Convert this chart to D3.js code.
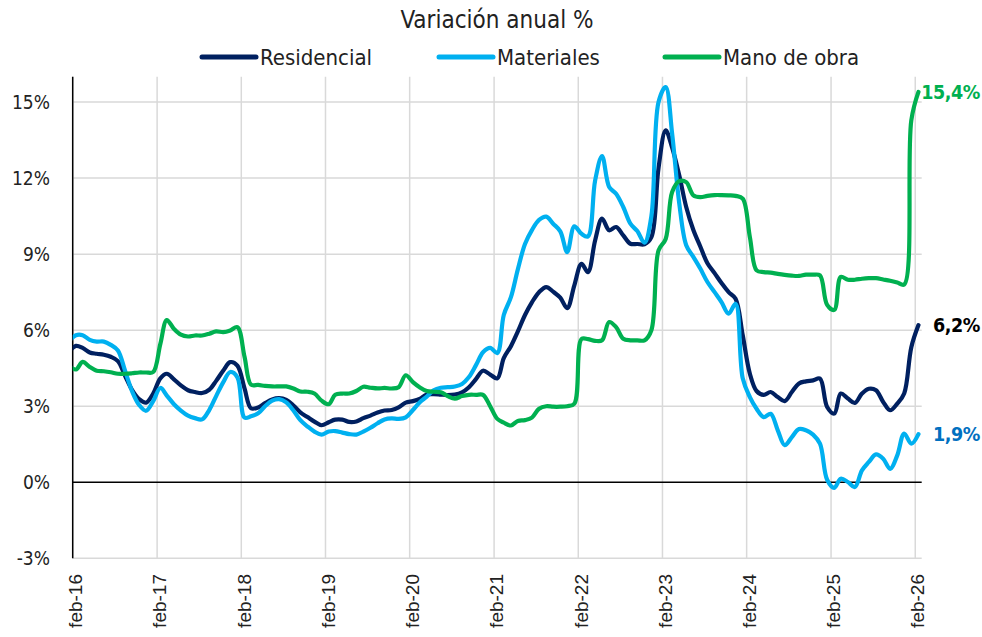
<!DOCTYPE html>
<html>
<head>
<meta charset="utf-8">
<script src="https://cdn.jsdelivr.net/npm/d3@7"></script>
<style>
  body { margin: 0; background: #fff; }
  svg { display: block; }
  .narrow { font-family: "Liberation Sans Narrow", "DejaVu Sans Condensed", "Roboto Condensed", sans-serif; font-stretch: condensed; }
</style>
</head>
<body>
<svg width="982" height="637"></svg>
<script>

// monthly data, Jan-16 .. Feb-26 (annual % change)
const residencial = [5.14,
  5.38, 5.30, 5.12, 5.07, 5.03, 4.95, 4.78, 4.20, 3.65, 3.28, 3.14, 3.50,
  4.10, 4.28, 4.06, 3.82, 3.63, 3.56, 3.52, 3.65, 4.00, 4.41, 4.74, 4.60,
  3.70, 2.92, 2.95, 3.12, 3.27, 3.32, 3.25, 3.03, 2.76, 2.57, 2.39, 2.25,
  2.37, 2.47, 2.47, 2.38, 2.40, 2.53, 2.63, 2.75, 2.83, 2.85, 2.95, 3.14,
  3.20, 3.29, 3.46, 3.48, 3.46, 3.44, 3.46, 3.55, 3.75, 4.08, 4.40, 4.25,
  4.10, 4.90, 5.37, 5.95, 6.60, 7.10, 7.50, 7.70, 7.52, 7.28, 6.87, 7.77,
  8.62, 8.29, 9.54, 10.40, 9.94, 10.07, 9.74, 9.41, 9.40, 9.39, 9.67, 12.40,
  13.88, 13.20, 12.10, 10.86, 9.95, 9.30, 8.64, 8.25, 7.86, 7.50, 7.24, 5.80,
  4.28, 3.60, 3.45, 3.56, 3.36, 3.20, 3.56, 3.90, 3.98, 4.02, 4.09, 2.97,
  2.71, 3.50, 3.30, 3.13, 3.50, 3.69, 3.63, 3.17, 2.84, 3.10, 3.50, 5.33,
  6.20]

const materiales = [5.56,
  5.80, 5.80, 5.62, 5.55, 5.55, 5.42, 5.20, 4.40, 3.60, 3.05, 2.82, 3.20,
  3.72, 3.42, 3.08, 2.83, 2.63, 2.53, 2.48, 2.85, 3.40, 3.95, 4.35, 4.14,
  2.55, 2.60, 2.72, 3.00, 3.22, 3.28, 3.15, 2.83, 2.45, 2.20, 2.00, 1.88,
  2.00, 2.02, 1.96, 1.90, 1.88, 2.00, 2.15, 2.33, 2.48, 2.52, 2.50, 2.56,
  2.85, 3.15, 3.38, 3.63, 3.73, 3.75, 3.78, 3.88, 4.15, 4.63, 5.13, 5.30,
  5.10, 6.60, 7.30, 8.40, 9.40, 9.95, 10.35, 10.48, 10.20, 9.90, 9.08, 10.10,
  9.80, 9.70, 11.90, 12.87, 11.65, 11.38, 10.86, 10.20, 9.91, 9.45, 10.50, 15.00,
  15.59, 13.75, 10.99, 9.35, 8.89, 8.43, 7.90, 7.50, 7.11, 6.65, 7.04, 4.10,
  3.36, 2.90, 2.57, 2.70, 2.05, 1.46, 1.78, 2.10, 2.05, 1.88, 1.52, 0.10,
  -0.22, 0.14, 0.01, -0.19, 0.47, 0.80, 1.10, 0.93, 0.53, 1.06, 1.92, 1.52,
  1.90]

const manoDeObra = [4.60,
  4.45, 4.75, 4.55, 4.40, 4.38, 4.34, 4.28, 4.28, 4.30, 4.33, 4.33, 4.35,
  5.46, 6.40, 6.05, 5.82, 5.75, 5.79, 5.79, 5.86, 5.95, 5.92, 5.99, 6.12,
  4.95, 3.85, 3.84, 3.80, 3.78, 3.78, 3.78, 3.70, 3.58, 3.57, 3.50, 3.22,
  3.08, 3.45, 3.50, 3.50, 3.60, 3.77, 3.73, 3.70, 3.72, 3.70, 3.75, 4.22,
  3.95, 3.75, 3.60, 3.57, 3.55, 3.40, 3.30, 3.40, 3.45, 3.45, 3.45, 3.00,
  2.50, 2.35, 2.24, 2.42, 2.45, 2.55, 2.90, 3.00, 2.98, 2.98, 3.00, 3.10,
  5.65, 5.65, 5.58, 5.60, 6.32, 6.12, 5.66, 5.60, 5.60, 5.60, 6.00, 9.15,
  9.60, 11.45, 11.88, 11.84, 11.32, 11.25, 11.30, 11.33, 11.33, 11.32, 11.30, 11.19,
  9.67, 8.36, 8.29, 8.27, 8.22, 8.18, 8.15, 8.14, 8.19, 8.19, 8.16, 7.00,
  6.80, 8.10, 7.99, 7.99, 8.03, 8.05, 8.05, 8.00, 7.95, 7.88, 7.80, 14.28,
  15.40]

const months = d3.range(residencial.length).map(i => new Date(2016, i, 15))

const seriesNames = ['Residencial', 'Materiales', 'Mano de obra']
const seriesColors = ['#002060', '#00B0F0', '#00B050']
const seriesValues = [residencial, materiales, manoDeObra]

const endLabels = ['6,2%', '1,9%', '15,4%']
const endColors = ['#000000', '#0070C0', '#00B050']

const xTickLabels = ['feb-16','feb-17','feb-18','feb-19','feb-20','feb-21','feb-22','feb-23','feb-24','feb-25','feb-26']
const yTicks = [-3, 0, 3, 6, 9, 12, 15]
const yTickLabels = ['-3%', '0%', '3%', '6%', '9%', '12%', '15%']


const svg = d3.select('svg')

const plotLeft = 72.7, plotRight = 921.7, plotTop = 76.7, plotBottom = 558.3

const x = d3.scaleTime()
    .domain([new Date(2016, 1, 1), new Date(2026, 2, 1)])
    .range([plotLeft, plotRight])

const y = d3.scaleLinear()
    .domain([-3, 16])
    .range([plotBottom, plotTop])

const yearTicks = xTickLabels.map((d, i) => new Date(2016 + i, 1, 1))

// grid
const grid = svg.append('g').attr('stroke', '#d9d9d9').attr('stroke-width', 1.5)
grid.selectAll('line.v')
    .data(yearTicks)
    .enter().append('line')
        .attr('x1', d => x(d)).attr('x2', d => x(d))
        .attr('y1', plotTop).attr('y2', plotBottom)
grid.selectAll('line.h')
    .data(yTicks.filter(d => d !== 0))
    .enter().append('line')
        .attr('x1', plotLeft).attr('x2', plotRight)
        .attr('y1', d => y(d)).attr('y2', d => y(d))

// axes
svg.append('line')
    .attr('x1', plotLeft).attr('x2', plotLeft).attr('y1', plotTop).attr('y2', plotBottom)
    .attr('stroke', '#000').attr('stroke-width', 1.5)
svg.append('line')
    .attr('x1', plotLeft).attr('x2', plotRight).attr('y1', y(0)).attr('y2', y(0))
    .attr('stroke', '#000').attr('stroke-width', 1.5)

// y labels
svg.append('g').selectAll('text')
    .data(yTicks)
    .enter().append('text')
        .attr('class', 'narrow')
        .attr('x', 50)
        .attr('y', d => y(d))
        .attr('dy', '0.35em')
        .attr('text-anchor', 'end')
        .attr('font-size', 19)
        .attr('fill', '#222')
        .text((d, i) => yTickLabels[i])

// x labels (rotated)
svg.append('g').selectAll('text')
    .data(xTickLabels)
    .enter().append('text')
        .attr('transform', (d, i) => `translate(${x(new Date(2016 + i, 1, 15)) + 6}, 574) rotate(-90)`)
        .attr('text-anchor', 'end')
        .attr('font-family', '"Liberation Sans", Arial, sans-serif')
        .attr('font-size', 19)
        .attr('fill', '#222')
        .text(d => d)

// lines
svg.append('clipPath').attr('id', 'plot')
    .append('rect').attr('x', plotLeft).attr('y', plotTop - 10).attr('width', plotRight - plotLeft).attr('height', plotBottom - plotTop + 10)

const line = d3.line()
    .x((d, i) => x(months[i]))
    .y(d => y(d))
    .curve(d3.curveCatmullRom.alpha(0.5))

svg.append('g')
    .attr('clip-path', 'url(#plot)')
    .selectAll('path')
    .data(seriesValues)
    .enter().append('path')
        .attr('d', d => line(d))
        .attr('fill', 'none')
        .attr('stroke', (d, i) => seriesColors[i])
        .attr('stroke-width', 4.2)
        .attr('stroke-linejoin', 'round')
        .attr('stroke-linecap', 'round')

// end labels
const last = months.length - 1
svg.append('g').selectAll('text')
    .data(seriesValues)
    .enter().append('text')
        .attr('class', 'narrow')
        .attr('x', 980)
        .attr('y', d => y(d[last]))
        .attr('dy', '0.35em')
        .attr('text-anchor', 'end')
        .attr('font-size', 19.5)
        .attr('font-weight', 'bold')
        .attr('letter-spacing', -0.4)
        .attr('fill', (d, i) => endColors[i])
        .text((d, i) => endLabels[i])

// title
svg.append('text')
    .attr('class', 'narrow')
    .attr('x', 497).attr('y', 28)
    .attr('text-anchor', 'middle')
    .attr('font-size', 24)
    .attr('fill', '#222')
    .text('Variación anual %')

// legend
const legendX = [202, 439, 665]
const legend = svg.append('g').selectAll('g')
    .data(seriesNames)
    .enter().append('g')
        .attr('transform', (d, i) => `translate(${legendX[i]}, 57)`)
legend.append('line')
    .attr('x1', 0).attr('x2', 54)
    .attr('stroke', (d, i) => seriesColors[i])
    .attr('stroke-width', 5)
    .attr('stroke-linecap', 'round')
legend.append('text')
    .attr('class', 'narrow')
    .attr('x', 58)
    .attr('dy', '0.35em')
    .attr('font-size', 22)
    .attr('fill', '#222')
    .text(d => d)

</script>
</body>
</html>
